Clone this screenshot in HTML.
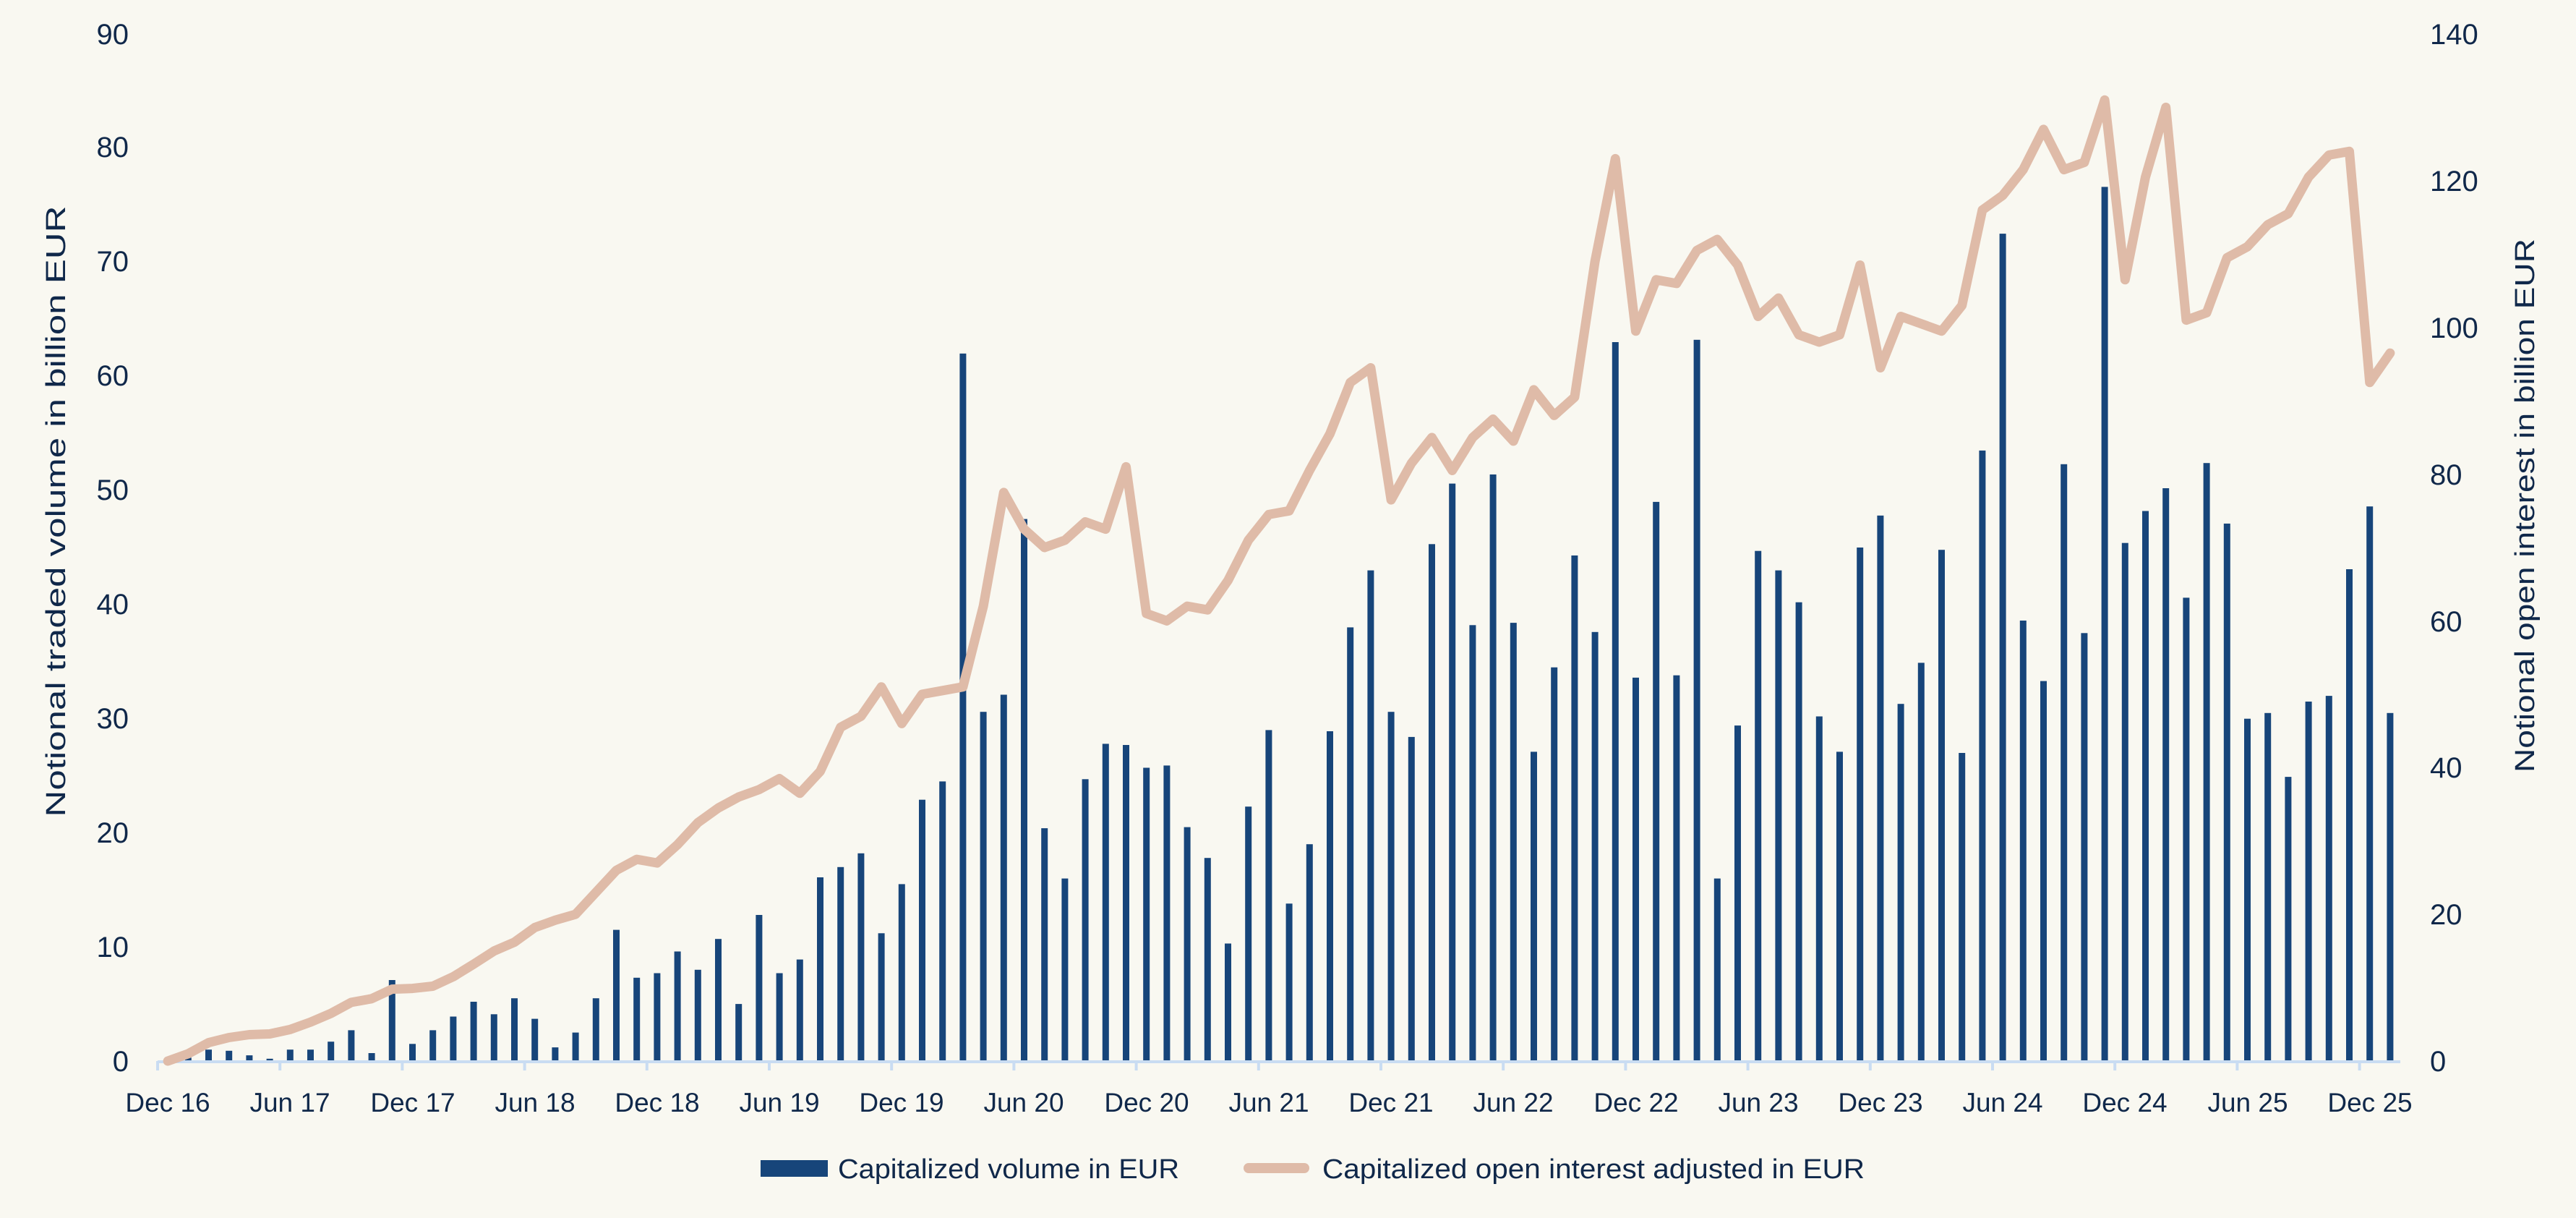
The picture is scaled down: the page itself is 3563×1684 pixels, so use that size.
<!DOCTYPE html>
<html><head><meta charset="utf-8"><style>
html,body{margin:0;padding:0;background:#f9f8f1;}
svg{display:block;}
text{font-family:"Liberation Sans",sans-serif;fill:#10284a;}
</style></head><body>
<svg id="c" width="3563" height="1684" viewBox="0 0 3563 1684" xmlns="http://www.w3.org/2000/svg">
<rect width="3563" height="1684" fill="#f9f8f1"/>
<g id="bars" fill="#17457a"></g>
<g id="axis" stroke="#c9dcf2" stroke-width="4"></g>
<polyline id="ln" fill="none" stroke="#dfbba8" stroke-width="13" stroke-linejoin="round" stroke-linecap="round"/>
<g font-size="40" text-anchor="end">
<text x="178" y="1481">0</text><text x="178" y="1323">10</text><text x="178" y="1165">20</text><text x="178" y="1007">30</text><text x="178" y="849">40</text><text x="178" y="691">50</text><text x="178" y="533">60</text><text x="178" y="375">70</text><text x="178" y="217">80</text><text x="178" y="61">90</text>
</g>
<g font-size="40" text-anchor="start">
<text x="3361" y="1481">0</text><text x="3361" y="1278">20</text><text x="3361" y="1075">40</text><text x="3361" y="873">60</text><text x="3361" y="670">80</text><text x="3361" y="467">100</text><text x="3361" y="264">120</text><text x="3361" y="61">140</text>
</g>
<g font-size="37" text-anchor="middle">
<text x="232" y="1537">Dec 16</text><text x="401" y="1537">Jun 17</text><text x="571" y="1537">Dec 17</text><text x="740" y="1537">Jun 18</text><text x="909" y="1537">Dec 18</text><text x="1078" y="1537">Jun 19</text><text x="1247" y="1537">Dec 19</text><text x="1416" y="1537">Jun 20</text><text x="1586" y="1537">Dec 20</text><text x="1755" y="1537">Jun 21</text><text x="1924" y="1537">Dec 21</text><text x="2093" y="1537">Jun 22</text><text x="2263" y="1537">Dec 22</text><text x="2432" y="1537">Jun 23</text><text x="2601" y="1537">Dec 23</text><text x="2770" y="1537">Jun 24</text><text x="2939" y="1537">Dec 24</text><text x="3109" y="1537">Jun 25</text><text x="3278" y="1537">Dec 25</text>
</g>
<text font-size="38" text-anchor="middle" transform="translate(90,707) rotate(-90)" textLength="845" lengthAdjust="spacingAndGlyphs">Notional traded volume in billion EUR</text>
<text font-size="38" text-anchor="middle" transform="translate(3505,699) rotate(-90)" textLength="738" lengthAdjust="spacingAndGlyphs">Notional open interest in billion EUR</text>
<rect x="1052" y="1604" width="93" height="23" fill="#17457a"/>
<text x="1159" y="1629" font-size="38" textLength="472" lengthAdjust="spacingAndGlyphs">Capitalized volume in EUR</text>
<line x1="1727" y1="1615" x2="1804" y2="1615" stroke="#dfbba8" stroke-width="14" stroke-linecap="round"/>
<text x="1829" y="1629" font-size="38" textLength="750" lengthAdjust="spacingAndGlyphs">Capitalized open interest adjusted in EUR</text>
</svg>
<script>
var V=[0,0.3,1,0.9,0.5,0.2,1,1,1.7,2.7,0.7,7.1,1.5,2.7,3.9,5.2,4.1,5.5,3.7,1.2,2.5,5.5,11.5,7.3,7.7,9.6,8,10.7,5,12.8,7.7,8.9,16.1,17,18.2,11.2,15.5,22.9,24.5,62,30.6,32.1,47.5,20.4,16,24.7,27.8,27.7,25.7,25.9,20.5,17.8,10.3,22.3,29,13.8,19,28.9,38,43,30.6,28.4,45.3,50.6,38.2,51.4,38.4,27.1,34.5,44.3,37.6,63,33.6,49,33.8,63.2,16,29.4,44.7,43,40.2,30.2,27.1,45,47.8,31.3,34.9,44.8,27,53.5,72.5,38.6,33.3,52.3,37.5,76.6,45.4,48.2,50.2,40.6,52.4,47.1,30,30.5,24.9,31.5,32,43.1,48.6,30.5];
var L=[0,1,2.5,3.2,3.6,3.7,4.3,5.3,6.5,8,8.5,9.8,9.9,10.2,11.5,13.2,15,16.2,18.2,19.2,20,23,26,27.5,27,29.5,32.5,34.5,36,37,38.5,36.5,39.5,45.5,47,51,46,50,50.5,51,62,77.5,72.5,70,71,73.5,72.5,81,61,60,62,61.5,65.5,71,74.5,75,80.5,85.5,92.5,94.5,76.5,81.5,85,80.5,85,87.5,84.5,91.5,88,90.5,109,123,99.5,106.5,106,110.5,112,108.5,101.5,104,99,98,99,108.5,94.5,101.5,100.5,99.5,103,116,118,121.5,127,121.5,122.5,131,106.5,120.5,130,101,102,109.5,111,114,115.5,120.5,123.5,124,92.5,96.5];
var ns="http://www.w3.org/2000/svg",x0=218,st=28.2,y0=1467,uy=1420/90,ur=1420/140;
var bg=document.getElementById('bars'),pts=[];
V.forEach(function(v,k){var cx=x0+(k+0.5)*st;var h=v*uy;var r=document.createElementNS(ns,'rect');r.setAttribute('x',(cx-4.5).toFixed(1));r.setAttribute('y',(y0-h).toFixed(1));r.setAttribute('width',9);r.setAttribute('height',h.toFixed(1));bg.appendChild(r);pts.push(cx.toFixed(1)+','+(y0-L[k]*ur).toFixed(1));});
document.getElementById('ln').setAttribute('points',pts.join(' '));
var ax=document.getElementById('axis');
var l=document.createElementNS(ns,'line');l.setAttribute('x1',x0);l.setAttribute('x2',x0+110*st);l.setAttribute('y1',y0+1);l.setAttribute('y2',y0+1);ax.appendChild(l);
for(var j=0;j<=18;j++){var t=document.createElementNS(ns,'line');var x=x0+j*6*st;t.setAttribute('x1',x);t.setAttribute('x2',x);t.setAttribute('y1',y0);t.setAttribute('y2',y0+13);ax.appendChild(t);}
</script>
</body></html>
